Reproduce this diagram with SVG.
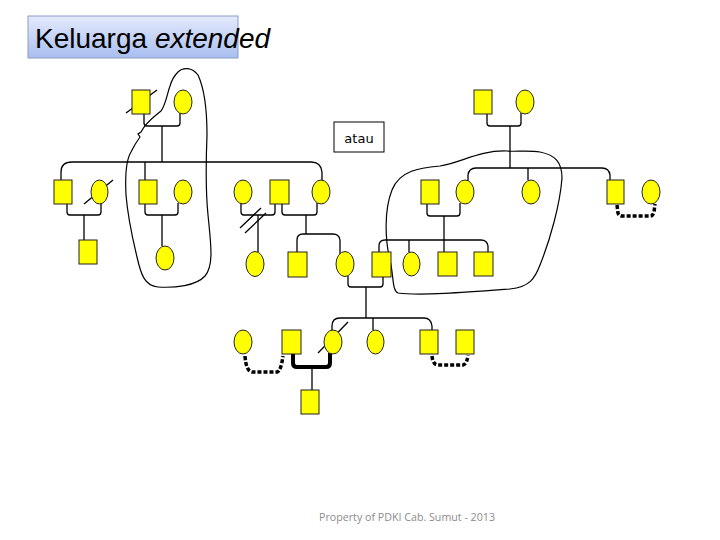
<svg xmlns="http://www.w3.org/2000/svg" width="720" height="540" viewBox="0 0 720 540">
<defs>
<linearGradient id="tg" x1="0" y1="0" x2="0" y2="1">
<stop offset="0" stop-color="#e4eafc"/>
<stop offset="1" stop-color="#a8bef0"/>
</linearGradient>
<style>
.sq{fill:#ffff00;stroke:#222;stroke-width:1}
.ci{fill:#ffff00;stroke:#222;stroke-width:1}
.ln{fill:none;stroke:#000;stroke-width:1.3}
.dot{fill:none;stroke:#000;stroke-width:3.5;stroke-dasharray:4 2}
.thick{fill:none;stroke:#000;stroke-width:4}
.enc{fill:none;stroke:#000;stroke-width:1.2}
</style>
</defs>
<rect width="720" height="540" fill="#fff"/>
<g id="title">
<rect x="28" y="16" width="210" height="42" fill="url(#tg)" stroke="#8a9cc8" stroke-width="1"/>
<text x="35" y="48" font-family="Liberation Sans, Arial, sans-serif" font-size="28" fill="#000">Keluarga <tspan font-style="italic">extended</tspan></text>
</g>
<g id="atau">
<rect x="334" y="122" width="50" height="30" fill="#fff" stroke="#000" stroke-width="1"/>
<text x="359" y="143" text-anchor="middle" font-family="DejaVu Sans, sans-serif" font-size="13" fill="#000">atau</text>
</g>
<g id="connectors">
<path class="ln" d="M144 114 V123 Q144 126 147 126 H177 Q180 126 180 123 V113"/>
<path class="ln" d="M162 126 V162"/>
<path class="ln" d="M61 180 V172 Q61 162 72 162 H311 Q321 162 322 172 V181"/>
<path class="ln" d="M145 162 V180"/>
<path class="ln" d="M67 204 V212 Q67 215 70 215 H98 Q101 215 101 212 V203"/>
<path class="ln" d="M84 215 V240"/>
<path class="ln" d="M145 204 V212 Q145 215 148 215 H175 Q178 215 178 212 V203"/>
<path class="ln" d="M162 215 V246"/>
<path class="ln" d="M241 203 V212 Q241 215 244 215 H272 Q275 215 275 212 V204"/>
<path class="ln" d="M258 215 V252"/>
<path class="ln" d="M240 228 L261 208 M245 233 L266 213"/>
<path class="ln" d="M282 204 V212 Q282 215 285 215 H314 Q317 215 317 212 V203"/>
<path class="ln" d="M306 215 V234"/>
<path class="ln" d="M297 256 V240 Q297 234 303 234 H333 Q339 234 340 240 V258"/>
<path class="ln" d="M348 276 V284 Q348 287 351 287 H380 Q383 287 383 284 V276"/>
<path class="ln" d="M366 287 V318"/>
<path class="ln" d="M332 332 V326 Q332 318 340 318 H424 Q431 318 432 326 V342"/>
<path class="ln" d="M373 318 V330"/>
<path class="ln" d="M379 252 V246 Q379 240 385 240 H481 Q487 240 488 246 V253"/>
<path class="ln" d="M409 240 V252"/>
<path class="ln" d="M427 204 V213 Q427 216 430 216 H457 Q460 216 460 213 V203"/>
<path class="ln" d="M444 216 V252"/>
<path class="ln" d="M487 114 V123 Q487 126 490 126 H518 Q521 126 521 123 V113"/>
<path class="ln" d="M510 126 V168"/>
<path class="ln" d="M468 181 V175 Q469 168 476 168 H602 Q609 168 610 175 V181"/>
<path class="ln" d="M528 168 V180"/>
<path class="dot" d="M617 205 L618 213 Q619 216 622 216 H650 Q653 216 654 212 L655 204"/>
<path class="dot" d="M245 356 Q246 371 252 372 H277 Q281 371 283 356"/>
<path class="thick" d="M293 354 V363 Q293 367 297 367 H326 Q330 367 330 363 V353"/>
<path class="ln" d="M312 367 V390"/>
<path class="dot" d="M432 356 Q433 365 438 365 H463 Q467 364 468 355"/>
<path class="ln" d="M126 113 L157 90"/>
<path class="ln" d="M84 204 L113 180"/>
<path class="ln" d="M318 353 L348 322"/>
<path class="enc" d="M178 72 C183 67 192 67 198 75 C205 90 207 110 207 135 C206 160 205 185 208 215 C211 245 214 265 205 276 C196 286 175 288 158 287 C145 286 141 275 137 257 C133 240 128 220 126 195 C125 175 126 160 131 152 C134 146 137 141 140 137 L138 134 L141 132 C146 122 155 116 161 111 C166 104 167 94 170 86 C172 79 175 75 178 72 Z"/>
<path class="enc" d="M507 151 C480 150 460 163 440 166 C420 168 400 170 392 190 C384 210 385 240 390 260 C394 278 392 290 398 293 C420 296 470 292 510 289 C530 287 535 278 540 265 C550 240 560 205 562 178 C562 162 555 155 540 152 C528 150 515 152 507 151 Z"/>
</g>
<g id="g1-left-m"><rect class="sq" x="132" y="90" width="18" height="24"/></g>
<g id="g1-left-f"><ellipse class="ci" cx="183" cy="102" rx="9" ry="12"/></g>
<g id="g1-right-m"><rect class="sq" x="474" y="90" width="18" height="24"/></g>
<g id="g1-right-f"><ellipse class="ci" cx="525" cy="102" rx="9" ry="12"/></g>
<g id="g2-a"><rect class="sq" x="54" y="180" width="18" height="24"/></g>
<g id="g2-b"><ellipse class="ci" cx="99.5" cy="192" rx="8.5" ry="12"/></g>
<g id="g2-c"><rect class="sq" x="139" y="180" width="18" height="24"/></g>
<g id="g2-d"><ellipse class="ci" cx="183" cy="192" rx="9" ry="12"/></g>
<g id="g2-e"><ellipse class="ci" cx="243" cy="192" rx="9" ry="12"/></g>
<g id="g2-f"><rect class="sq" x="270" y="180" width="19" height="24"/></g>
<g id="g2-g"><ellipse class="ci" cx="321" cy="192" rx="9" ry="12"/></g>
<g id="g2-n"><rect class="sq" x="421" y="180" width="18" height="24"/></g>
<g id="g2-o"><ellipse class="ci" cx="465" cy="192" rx="9" ry="12"/></g>
<g id="g2-s"><ellipse class="ci" cx="531" cy="192" rx="9" ry="12"/></g>
<g id="g2-r"><rect class="sq" x="607" y="180" width="17" height="24"/></g>
<g id="g2-t"><ellipse class="ci" cx="651" cy="192" rx="9" ry="12"/></g>
<g id="g3-a1"><rect class="sq" x="79" y="240" width="18" height="24"/></g>
<g id="g3-c1"><ellipse class="ci" cx="165" cy="258" rx="9" ry="12"/></g>
<g id="g3-e1"><ellipse class="ci" cx="255" cy="264" rx="9" ry="12.5"/></g>
<g id="g3-h"><rect class="sq" x="288" y="252" width="19" height="25"/></g>
<g id="g3-i"><ellipse class="ci" cx="345" cy="264" rx="9" ry="12.5"/></g>
<g id="g3-j"><rect class="sq" x="372" y="252" width="19" height="25"/></g>
<g id="g3-k"><ellipse class="ci" cx="411.5" cy="264" rx="8.5" ry="12"/></g>
<g id="g3-l"><rect class="sq" x="438" y="252" width="19" height="24"/></g>
<g id="g3-m"><rect class="sq" x="474" y="252" width="19" height="24"/></g>
<g id="g4-x"><ellipse class="ci" cx="243" cy="342" rx="9" ry="12"/></g>
<g id="g4-y"><rect class="sq" x="282" y="330" width="19" height="24"/></g>
<g id="g4-u"><ellipse class="ci" cx="333" cy="342" rx="9" ry="12"/></g>
<g id="g4-w"><ellipse class="ci" cx="375.5" cy="342" rx="8.5" ry="12"/></g>
<g id="g4-v"><rect class="sq" x="420" y="330" width="18" height="24"/></g>
<g id="g4-z"><rect class="sq" x="456" y="330" width="18" height="24"/></g>
<g id="g5-child"><rect class="sq" x="301" y="390" width="18" height="24"/></g>
<g id="footer">
<text x="319" y="521" font-family="Open Sans, Noto Sans, sans-serif" font-size="10.5" fill="#8c8c8c" textLength="176" lengthAdjust="spacingAndGlyphs">Property of PDKI Cab. Sumut - 2013</text>
</g>
</svg>
